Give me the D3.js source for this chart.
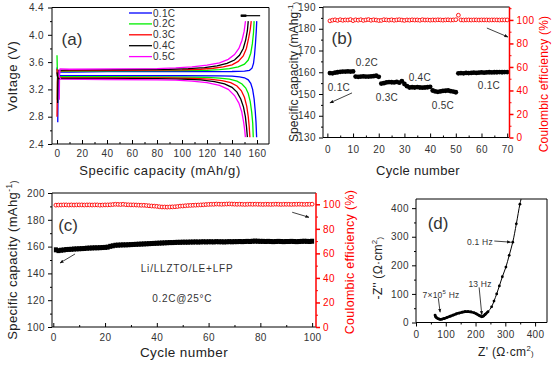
<!DOCTYPE html>
<html lang="en">
<head>
<meta charset="utf-8">
<title>LFP cell: voltage, rate, cycling, impedance</title>
<script src="https://cdn.jsdelivr.net/npm/d3@7"></script>
<style>
body { margin: 0; background: #fff; }
svg text { font-family: "Liberation Sans", Arial, sans-serif; fill: #222; }
</style>
</head>
<body>
<script>

// ---------- (a) charge / discharge curves, [capacity mAh/g, voltage V]
var rateNames = ["0.1C", "0.2C", "0.3C", "0.4C", "0.5C"];
var rateColors = ["#0000ff", "#00ee00", "#ff0000", "#000000", "#ff00ff"];

var charge01 = [[0.6,2.72],[0.8,3.1],[1.0,3.44],[1.5,3.455],[10,3.455],[40,3.46],[80,3.46],[120,3.46],[140,3.462],[150,3.468],[154,3.48],[156,3.51],[157.2,3.58],[158,3.7],[158.8,3.88],[159.4,4.05],[159.8,4.2]];
var charge02 = [[0.2,3.05],[0.4,3.4],[1,3.465],[10,3.468],[50,3.47],[100,3.475],[120,3.48],[130,3.49],[138,3.505],[145,3.53],[150,3.57],[153,3.63],[155,3.73],[156.3,3.87],[157.2,4.03],[157.7,4.2]];
var charge03 = [[0,2.8],[0.3,3.3],[0.8,3.47],[10,3.475],[50,3.48],[100,3.485],[115,3.495],[125,3.51],[133,3.53],[140,3.56],[145,3.61],[149,3.69],[151.5,3.8],[153.3,3.95],[154.6,4.08],[155.4,4.2]];
var charge04 = [[0.5,3.0],[0.8,3.4],[1.2,3.48],[10,3.485],[50,3.49],[90,3.495],[105,3.505],[118,3.52],[128,3.545],[136,3.58],[142,3.63],[146,3.7],[149,3.8],[151,3.93],[152.3,4.06],[153,4.2]];
var charge05 = [[1.8,3.05],[2.0,3.4],[2.5,3.5],[10,3.495],[50,3.5],[80,3.505],[95,3.515],[108,3.53],[120,3.555],[130,3.59],[137,3.64],[142,3.71],[145.5,3.8],[148,3.92],[149.7,4.05],[150.8,4.2]];

var discharge01 = [[0,3.52],[0.5,3.42],[1.5,3.40],[40,3.40],[100,3.40],[130,3.398],[140,3.395],[146,3.385],[150,3.37],[153,3.34],[155,3.29],[156.5,3.2],[157.7,3.06],[158.6,2.88],[159.2,2.72],[159.7,2.5]];
var discharge02 = [[0,3.7],[0.3,3.45],[1,3.385],[40,3.385],[100,3.38],[120,3.375],[130,3.365],[138,3.35],[144,3.32],[148,3.28],[151,3.22],[153,3.14],[154.6,3.02],[155.8,2.86],[156.6,2.7],[157,2.5]];
var discharge03 = [[0,3.5],[0.3,3.4],[1,3.37],[40,3.37],[90,3.368],[110,3.36],[122,3.35],[132,3.33],[139,3.3],[144,3.25],[147.5,3.18],[150,3.08],[151.8,2.95],[153,2.8],[153.8,2.65],[154.3,2.5]];
var discharge04 = [[0,3.45],[0.5,3.38],[1,3.36],[40,3.36],[80,3.357],[100,3.35],[115,3.34],[126,3.315],[134,3.28],[140,3.23],[144,3.16],[147,3.06],[149.2,2.94],[150.7,2.8],[151.6,2.65],[152.3,2.5]];
var discharge05 = [[1.5,3.48],[2,3.38],[3,3.35],[40,3.345],[80,3.34],[95,3.335],[108,3.32],[120,3.3],[130,3.26],[137,3.2],[142,3.11],[145.5,3.0],[147.8,2.87],[149.3,2.72],[150.2,2.6],[150.7,2.5]];

var stubLine = [[147,4.28],[162.5,4.28]];

// ---------- (b) rate test, cycles 1-70
var rateCapacity = [
  159.6,159.5,159.8,160.0,160.2,160.3,160.3,160.4,160.3,160.4,
  158.0,157.9,158.0,158.1,158.0,158.0,158.1,158.2,158.4,157.9,
  154.8,155.0,155.3,155.5,155.4,155.3,155.6,155.2,155.9,154.6,
  153.6,153.0,153.1,153.0,153.2,153.0,152.9,153.0,153.1,153.3,
  151.6,151.2,151.0,151.2,151.4,151.5,151.6,151.3,151.1,150.8,
  159.5,159.6,159.5,159.7,159.6,159.7,159.8,159.7,159.8,159.9,
  159.8,159.9,160.0,159.9,160.0,160.0,160.1,160.0,160.1,160.1];
var rateEfficiency = [
  99.2,99.8,100.1,99.6,100.2,99.7,100.0,99.9,100.3,99.4,
  100.1,99.8,100.2,99.6,100.0,100.3,99.7,100.1,99.9,99.5,
  99.6,100.2,100.0,99.8,100.1,99.7,100.0,100.2,99.9,99.6,
  100.0,99.8,100.1,99.9,100.0,99.7,100.2,99.9,100.0,99.8,
  100.0,99.9,100.1,100.0,99.8,100.0,100.1,99.9,100.0,100.2,
  104.0,100.0,99.9,100.0,100.0,99.9,100.0,100.0,99.9,100.0,
  100.0,100.0,99.9,100.0,100.0,100.0,99.9,100.0,100.0,100.0];

// ---------- (c) 0.2C cycling, cycles 1-100
var cycCapacity = [
  157.6,157.0,157.3,157.5,157.8,157.9,158.0,158.2,158.3,158.4,
  158.5,158.6,158.8,158.9,159.0,159.1,159.1,159.2,159.3,159.4,
  159.6,160.2,160.6,161.0,161.1,161.2,161.3,161.3,161.4,161.5,
  161.6,161.7,161.8,161.9,162.0,162.1,162.2,162.3,162.4,162.5,
  162.6,162.7,162.8,162.9,163.0,163.0,163.1,163.2,163.2,163.3,
  163.3,163.3,163.4,163.4,163.5,163.4,163.5,163.6,163.5,163.6,
  163.6,163.5,163.7,163.6,163.6,163.5,163.6,163.7,163.6,163.7,
  163.7,163.8,163.7,163.8,163.9,163.8,164.0,164.1,164.0,163.9,
  163.9,163.8,163.9,163.8,163.7,163.8,163.9,163.8,163.7,163.8,
  163.8,163.9,163.8,163.7,163.8,163.9,164.0,163.9,163.8,164.0];
var cycEfficiency = [
  99.3,99.4,99.4,99.5,99.5,99.4,99.5,99.4,99.5,99.5,
  99.5,99.4,99.5,99.5,99.4,99.5,99.5,99.3,99.4,99.5,
  99.5,99.6,99.8,100.0,99.9,99.8,100.0,99.7,99.6,99.5,
  99.5,99.4,99.3,99.2,99.2,99.0,98.8,98.6,98.5,98.3,
  98.0,97.8,97.8,97.7,97.8,97.9,98.0,98.2,98.5,98.6,
  98.8,99.0,99.1,99.2,99.3,99.4,99.5,99.6,99.8,99.9,
  100.0,100.0,100.2,100.1,100.0,100.1,100.2,100.3,100.2,100.1,
  100.0,100.1,100.0,99.9,100.0,100.1,100.0,100.1,100.0,100.0,
  99.9,100.0,100.0,99.9,100.0,100.1,100.0,99.9,100.0,100.0,
  100.0,99.9,100.0,100.0,100.1,100.0,99.9,100.0,100.0,100.1];

// ---------- (d) impedance, Z' and -Z'' in ohm cm2
var zReal = [64,66,70,75,81,88,95,105,115,125,135,145,155,165,175,185,195,203,210,215,221,226,232,242,254,262,271,280,290,302,313,325,337,349,356];
var zImag = [26,20,16,13,11,12,14,18,22,26,30,33,36,38,38,37,34,30,26,23,20,22,28,38,55,75,100,128,160,194,235,281,345,414,445];

var svg = d3.select("body").append("svg")
  .attr("width", 555)
  .attr("height", 365);

var defs = svg.append("defs");
defs.append("marker")
  .attr("id", "head")
  .attr("viewBox", "0 0 10 10")
  .attr("refX", 9).attr("refY", 5)
  .attr("markerWidth", 5).attr("markerHeight", 5)
  .attr("orient", "auto-start-reverse")
  .append("path").attr("d", "M0,1 L10,5 L0,9 z").attr("fill", "#111");

function ticksFrom(a, b, step) {
  var out = [];
  for (var v = a; v <= b + 1e-9; v += step) out.push(+v.toFixed(4));
  return out;
}

// axis helper: side = bottom/left/right, inward ticks use negative size
function axis(sc, side, pos, major, minor, opts) {
  var make = side == "bottom" ? d3.axisBottom : (side == "left" ? d3.axisLeft : d3.axisRight);
  var tr = side == "bottom" ? "translate(0," + pos + ")" : "translate(" + pos + ",0)";
  var sign = opts.inward ? -1 : 1;
  var col = opts.color || "#000";
  var gm = svg.append("g").attr("transform", tr)
    .call(make(sc).tickValues(minor).tickSize(sign * 2).tickFormat(""));
  gm.select(".domain").remove();
  gm.selectAll("line").attr("stroke", col);
  var g = svg.append("g").attr("transform", tr)
    .call(make(sc).tickValues(major).tickSize(sign * 4).tickPadding(opts.pad || 4).tickFormat(opts.format || d3.format("d")));
  g.select(".domain").remove();
  g.selectAll("line").attr("stroke", col).attr("stroke-width", opts.width || 1);
  g.selectAll("text")
    .attr("font-size", "10px")
    .attr("letter-spacing", "0.4px")
    .style("fill", opts.color || "#333");
  if (opts.inward && side == "bottom") g.selectAll("text").attr("y", opts.pad);
  return g;
}

function frame(x, y, rightColor) {
  var x0 = x.range()[0], x1 = x.range()[1], y0 = y.range()[1], y1 = y.range()[0];
  var g = svg.append("g").attr("fill", "none");
  g.append("path").attr("d", "M" + x1 + "," + y0 + "H" + x0 + "V" + y1 + "H" + x1).attr("stroke", "#000");
  g.append("line").attr("x1", x1).attr("x2", x1).attr("y1", y0).attr("y2", y1)
    .attr("stroke", rightColor || "#000").attr("stroke-width", rightColor ? 1.5 : 1);
}

function title(x, y, rot, size, color, parts, spacing) {
  var t = svg.append("text")
    .attr("transform", "translate(" + x + "," + y + ")" + (rot ? " rotate(-90)" : ""))
    .attr("text-anchor", "middle")
    .attr("font-size", size + "px")
    .attr("letter-spacing", (spacing || 0) + "px")
    .style("fill", color || "#222");
  parts.forEach(function(p) {
    if (typeof p == "string") t.append("tspan").text(p);
    else t.append("tspan").attr("font-size", (size * 0.65) + "px").attr("dy", p.dy).text(p.t);
  });
  return t;
}

function note(x, y, txt, size, spacing) {
  return svg.append("text")
    .attr("x", x).attr("y", y)
    .attr("dy", "0.35em")
    .attr("text-anchor", "middle")
    .attr("font-size", size + "px")
    .attr("letter-spacing", (spacing || 0) + "px")
    .style("fill", "#333")
    .text(txt);
}

function arrow(x1, y1, x2, y2, atStart) {
  svg.append("line")
    .attr("x1", x1).attr("y1", y1).attr("x2", x2).attr("y2", y2)
    .attr("stroke", "#111").attr("stroke-width", 0.8)
    .attr(atStart ? "marker-start" : "marker-end", "url(#head)");
}

// ================= (a)
var xa = d3.scaleLinear().domain([-4, 169.6]).range([52, 269]);
var ya = d3.scaleLinear().domain([2.4, 4.4]).range([144, 7.5]);
var lineA = d3.line().x(function(d){ return xa(d[0]); }).y(function(d){ return ya(d[1]); });

var chargeSets = [charge01, charge02, charge03, charge04, charge05];
var dischargeSets = [discharge01, discharge02, discharge03, discharge04, discharge05];

svg.append("g").selectAll("path")
  .data(chargeSets.concat(dischargeSets))
  .enter().append("path")
  .attr("d", lineA)
  .attr("fill", "none")
  .attr("stroke-width", 1.3)
  .attr("stroke", function(d, i){ return rateColors[i % 5]; });

svg.append("path").attr("d", lineA(stubLine)).attr("stroke", "#000").attr("stroke-width", 1.2);
svg.append("path").attr("d", lineA(stubLine.map(function(d, i){ return i ? [151.5, d[1]] : d; })))
  .attr("stroke", "#000").attr("stroke-width", 2.5);

var legA = svg.append("g");
rateNames.forEach(function(n, i) {
  var yy = 13 + i * 10.9;
  legA.append("line").attr("x1", 129).attr("x2", 152).attr("y1", yy).attr("y2", yy)
    .attr("stroke", rateColors[i]).attr("stroke-width", 1.3);
  legA.append("text").attr("x", 153).attr("y", yy).attr("dy", "0.35em")
    .attr("font-size", "10px").attr("letter-spacing", "0.3px").style("fill", "#333").text(n);
});

frame(xa, ya);
axis(xa, "bottom", 144, ticksFrom(0, 160, 20), ticksFrom(10, 160, 20), {inward: true, pad: 6});
axis(ya, "left", 52, ticksFrom(2.4, 4.4, 0.4), ticksFrom(2.6, 4.2, 0.4), {format: d3.format(".1f"), pad: 4});
title(160, 175, false, 13, null, ["Specific capacity (mAh/g)"], 0.6);
title(17, 76, true, 13, null, ["Voltage (V)"], 0.6);
note(xa(12), ya(3.94), "(a)", 17);

// ================= (b)
var cyclesB = d3.range(1, rateCapacity.length + 1);
var xb = d3.scaleLinear().domain([-1.7, 70.9]).range([323, 509.5]);
var yb = d3.scaleLinear().domain([130, 190]).range([137.5, 7]);
var yb2 = d3.scaleLinear().domain([0, 111]).range([137.5, 7]);

svg.append("g").selectAll("circle")
  .data(cyclesB).enter().append("circle")
  .attr("cx", function(d){ return xb(d); })
  .attr("cy", function(d, i){ return yb2(rateEfficiency[i]); })
  .attr("r", 1.9).attr("fill", "#fff").attr("stroke", "#ff0000").attr("stroke-width", 0.9);
svg.append("g").selectAll("circle")
  .data(cyclesB).enter().append("circle")
  .attr("cx", function(d){ return xb(d); })
  .attr("cy", function(d, i){ return yb(rateCapacity[i]); })
  .attr("r", 2.4).attr("fill", "#000");

frame(xb, yb, "#ff0000");
axis(xb, "bottom", 137.5, ticksFrom(0, 70, 10), ticksFrom(5, 65, 10), {inward: true, pad: 8});
axis(yb, "left", 323, ticksFrom(130, 190, 10), ticksFrom(135, 185, 10), {pad: 3});
axis(yb2, "right", 509.5, ticksFrom(0, 100, 20), ticksFrom(10, 110, 20), {color: "#ff0000", pad: 3, width: 1.5});
title(418, 175, false, 13, null, ["Cycle number"], 0.3);
title(298, 72, true, 12, null, ["Specific capacity (mAhg", {t: "-1", dy: -5}, {t: ")", dy: 5}], 0.1);
title(548, 84, true, 12, "#ff0000", ["Coulombic efficiency (%)"], 0.2);
note(xb(5.7), yb(175.7), "(b)", 17);
note(xb(4.5), yb(152.8), "0.1C", 10, 0.3);
note(xb(15.4), yb(164.3), "0.2C", 10, 0.3);
note(xb(23.2), yb(148.6), "0.3C", 10, 0.3);
note(xb(36), yb(157.8), "0.4C", 10, 0.3);
note(xb(45), yb(144.5), "0.5C", 10, 0.3);
note(xb(62.9), yb(154.1), "0.1C", 10, 0.3);
arrow(xb(1.0), yb(145.9), xb(9.6), yb(150.5), true);
arrow(xb(62.1), yb2(93.1), xb(70.3), yb2(85.5), false);

// ================= (c)
var cyclesC = d3.range(1, cycCapacity.length + 1);
var xc = d3.scaleLinear().domain([-0.5, 101.5]).range([52, 316]);
var yc = d3.scaleLinear().domain([100, 200]).range([327, 193]);
var yc2 = d3.scaleLinear().domain([0, 109.2]).range([327, 193]);

svg.append("g").selectAll("circle")
  .data(cyclesC).enter().append("circle")
  .attr("cx", function(d){ return xc(d); })
  .attr("cy", function(d, i){ return yc2(cycEfficiency[i]); })
  .attr("r", 1.9).attr("fill", "#fff").attr("stroke", "#ff0000").attr("stroke-width", 0.9);
svg.append("g").selectAll("rect")
  .data(cyclesC).enter().append("rect")
  .attr("x", function(d){ return xc(d) - 2; })
  .attr("y", function(d, i){ return yc(cycCapacity[i]) - 2.5; })
  .attr("width", 4).attr("height", 5).attr("fill", "#000");

frame(xc, yc, "#ff0000");
axis(xc, "bottom", 327, ticksFrom(0, 100, 20), ticksFrom(10, 90, 20), {inward: true, pad: 7});
axis(yc, "left", 52, ticksFrom(100, 200, 20), ticksFrom(110, 190, 20), {pad: 3});
axis(yc2, "right", 316, ticksFrom(0, 100, 20), ticksFrom(10, 90, 20), {color: "#ff0000", pad: 3, width: 1.5});
title(184, 357, false, 13.5, null, ["Cycle number"], 0.4);
title(17, 260, true, 13, null, ["Specific capacity (mAhg", {t: "-1", dy: -5}, {t: ")", dy: 5}], 0.4);
title(354, 262, true, 12.5, "#ff0000", ["Coulombic efficiency (%)"], 0.3);
note(xc(5.7), yc(176.1), "(c)", 17);
note(xc(51.7), yc(143.3), "Li/LLZTO/LE+LFP", 10, 0.8);
note(xc(49.8), yc(120.9), "0.2C@25\u00B0C", 10, 0.7);
arrow(xc(2.6), yc(147.8), xc(8.4), yc(154.5), true);
arrow(xc(92.3), yc2(93.5), xc(98.8), yc2(89.4), false);

// ================= (d)
var xd = d3.scaleLinear().domain([0, 440]).range([416, 547]);
var yd = d3.scaleLinear().domain([0, 432]).range([322.5, 199]);
var nyq = zReal.map(function(v, i){ return [v, zImag[i]]; });

defs.append("clipPath").attr("id", "clipd")
  .append("rect").attr("x", 416).attr("y", 199).attr("width", 131).attr("height", 123.5);
var gd = svg.append("g").attr("clip-path", "url(#clipd)");
gd.append("path")
  .attr("d", d3.line().curve(d3.curveCatmullRom).x(function(d){ return xd(d[0]); }).y(function(d){ return yd(d[1]); })(nyq))
  .attr("fill", "none").attr("stroke", "#000").attr("stroke-width", 1);
gd.append("path")
  .attr("d", d3.line().curve(d3.curveCatmullRom).x(function(d){ return xd(d[0]); }).y(function(d){ return yd(d[1]); })(nyq.slice(0, 24)))
  .attr("fill", "none").attr("stroke", "#000").attr("stroke-width", 2.6);
gd.selectAll("circle").data(nyq).enter().append("circle")
  .attr("cx", function(d){ return xd(d[0]); })
  .attr("cy", function(d){ return yd(d[1]); })
  .attr("r", 1.4).attr("fill", "#000");

frame(xd, yd);
axis(xd, "bottom", 322.5, ticksFrom(0, 400, 100), ticksFrom(50, 400, 100), {pad: 4});
axis(yd, "left", 416, ticksFrom(0, 400, 100), ticksFrom(50, 400, 100), {pad: 3});
title(506, 356, false, 12, null, ["Z' (\u03A9\u00B7cm", {t: "2", dy: -5}, {t: ")", dy: 5}], 0.3);
title(382, 268, true, 12, null, ["-Z'' (\u03A9\u00B7cm", {t: "2", dy: -5}, {t: ")", dy: 5}], 0.3);
note(xd(74), yd(348), "(d)", 17);
var n7 = note(xd(84), yd(96), "7\u00D710", 8.5, 0.2);
n7.append("tspan").attr("font-size", "6px").attr("dy", "-4").text("5");
n7.append("tspan").attr("dy", "4").text(" Hz");
note(xd(215), yd(134.6), "13 Hz", 8.5, 0.2);
note(xd(215), yd(281.5), "0.1 Hz", 8.5, 0.2);
arrow(xd(75), yd(85), xd(81), yd(36), false);
arrow(xd(212), yd(123), xd(221), yd(27), false);
arrow(xd(263), yd(285), xd(318), yd(281), false);

</script>
</body>
</html>
